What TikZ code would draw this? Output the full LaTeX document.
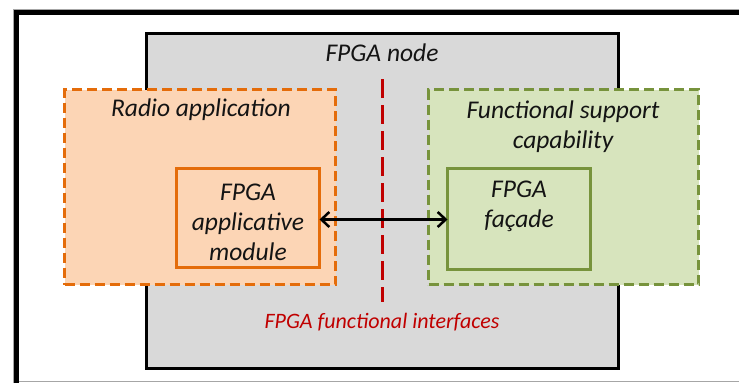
\documentclass[tikz,border=0pt]{standalone}
\usepackage{fontspec}
\setmainfont{Carlito}
\usetikzlibrary{arrows.meta}
\definecolor{graybg}{HTML}{D9D9D9}
\definecolor{peach}{HTML}{FCD5B5}
\definecolor{orangeb}{HTML}{E46C0A}
\definecolor{greenbg}{HTML}{D7E4BD}
\definecolor{greenb}{HTML}{77933C}
\definecolor{redl}{HTML}{C00000}
\definecolor{txt}{HTML}{141414}
\definecolor{framegray}{HTML}{A6A6A6}
\begin{document}
\begin{tikzpicture}[x=1pt,y=-1pt,
  box/.style={rectangle, inner sep=0pt, outer sep=0pt, anchor=north west},
  dashbox/.style={box, line width=3pt, dash pattern=on 10pt off 5pt},
  solidbox/.style={box, line width=3pt},
  lbl/.style={inner sep=0pt, align=center, text=txt, font=\itshape\fontsize{25.5}{30}\selectfont}]
\useasboundingbox (0,0) rectangle (739,383);
\fill[white] (0,0) rectangle (739,383);
% slide frame
\draw[framegray, line width=1pt] (13.5,383) -- (13.5,9.5) -- (739,9.5);
\draw[framegray, line width=1.2pt] (13.5,381.5) -- (739,381.5);
\draw[black, line width=5pt] (16.5,383) -- (16.5,12.5) -- (739,12.5);
% FPGA node
\node[box, draw=black, line width=3pt, fill=graybg, minimum width=472pt, minimum height=335pt] (fpga) at (146.5,33.5) {};
\node[lbl] (fpgalbl) at (382,53) {FPGA node};
% Radio application
\node[dashbox, draw=orangeb, fill=peach, minimum width=271pt, minimum height=195pt] (radio) at (64.5,89.5) {};
\node[lbl] (radiolbl) at (201,110) {Radio application};
% Functional support capability
\node[dashbox, draw=greenb, fill=greenbg, minimum width=270pt, minimum height=195pt] (fsc) at (428.5,89.5) {};
\node[lbl] (fsclbl) at (563,127) {Functional support\\capability};
% inner boxes
\node[solidbox, draw=orangeb, fill=peach, minimum width=143pt, minimum height=99pt] (appmod) at (176.5,168.5) {};
\node[lbl] (appmodlbl) at (248,222) {FPGA\\applicative\\module};
\node[solidbox, draw=greenb, fill=greenbg, minimum width=143pt, minimum height=101pt] (facade) at (447.5,168.5) {};
\node[lbl] (facadelbl) at (519,206) {FPGA\\façade};
% red interface line
\coordinate (rtop) at (382,79);
\coordinate (rbot) at (382,302);
\draw[redl, line width=3pt, dash pattern=on 19pt off 7pt] (rtop) -- (rbot);
\node[lbl, text=redl, font=\itshape\fontsize{22}{26}\selectfont] (iflbl) at (382,322) {FPGA functional interfaces};
% arrow
\draw[line width=2.5pt, {Straight Barb[length=8pt,width=15pt]}-{Straight Barb[length=8pt,width=15pt]}] ([yshift=-1.5pt]appmod.east) -- ([yshift=-1.5pt]appmod.east -| facade.west);
\end{tikzpicture}
\end{document}
